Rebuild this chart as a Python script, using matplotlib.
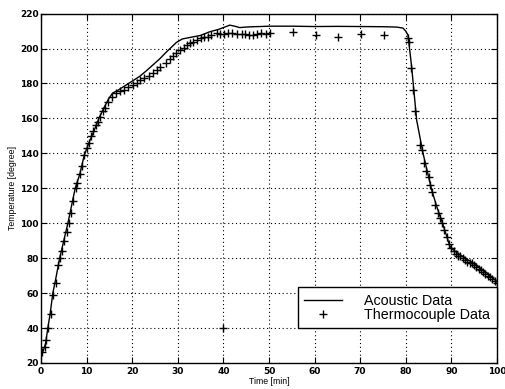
import matplotlib
matplotlib.use("Agg")
import matplotlib.pyplot as plt

# Acoustic data (continuous line)
acoustic_t = [0, 0.5, 1.0, 1.5, 2.0, 2.6, 3.3, 4.1, 5.0, 5.9, 6.7, 7.5, 8.5, 9.5, 10.5, 11.5,
              12.7, 13.8, 14.8, 15.7, 16.8, 18.0, 19.8, 21.6, 23.0, 24.5, 26.0, 27.5, 29.7,
              31.0, 33.0, 35.0, 37.0, 39.0, 40.5, 41.4, 42.5, 43.6, 45.0, 46.5, 48.0, 50.0,
              55.0, 60.0, 65.0, 70.0, 75.0, 78.0, 79.4, 80.0, 80.5, 81.3, 82.4, 83.8, 85.7,
              86.8, 88.2, 89.7, 90.8, 91.9, 93.3, 94.7, 96.2, 97.7, 99.0, 100.0]
acoustic_y = [25, 27, 31, 40, 48, 60, 69, 80, 90, 100, 110, 120, 128, 139, 146, 152,
              160, 166, 171, 174.5, 176, 178, 181, 184, 187, 190.5, 194, 198, 203.5,
              205.5, 206.5, 207.5, 209.6, 211, 212.5, 213.4, 212.8, 212, 212.3, 212.5, 212.6, 212.8,
              212.8, 212.6, 212.7, 212.6, 212.5, 212.3, 211.7, 210, 207.7, 189.6, 159, 140, 119,
              109.6, 99, 86.7, 84, 82, 79.5, 77.4, 74.5, 71.7, 69, 66.5]

# Thermocouple data (+ markers)
thermo_t = [0.3, 0.8, 1.2, 1.6, 2.1, 2.6, 3.2, 3.7, 4.1, 4.6, 5.1, 5.6, 6.1, 6.6, 7.1, 7.6,
            8.0, 8.5, 9.0, 9.5, 10.0, 10.5, 11.0, 11.5, 12.0, 12.5, 13.0, 13.5, 14.0, 14.7,
            15.5, 16.5, 17.3, 18.1, 19.0, 20.2, 21.0, 21.8, 22.6, 23.8, 24.6, 25.4, 26.2,
            27.5, 28.3, 29.0, 29.7, 30.5, 31.3, 32.0, 32.6, 33.4, 34.2, 35.0, 35.8, 36.6,
            37.4, 38.5, 39.3, 40.2, 41.0, 42.0, 43.0, 44.0, 44.8, 45.6, 46.5, 47.3, 48.3,
            49.3, 50.2, 55.3, 60.3, 65.2, 70.3, 75.3,
            80.5, 80.7, 81.1, 81.6, 82.0, 83.1, 83.5, 84.0, 84.5, 85.0, 85.4, 85.7, 86.4,
            87.0, 87.5, 88.0, 88.5, 89.0, 89.5, 90.0, 90.5, 91.0, 91.5, 92.0, 92.5, 93.0,
            93.5, 94.0, 94.5, 95.0, 95.5, 96.0, 96.5, 97.0, 97.5, 98.0, 98.5, 99.0, 99.5, 100.0,
            40.0]
thermo_y = [26, 29, 33, 40, 48, 59, 66, 76, 80, 84, 90, 95, 100, 106, 113, 120,
            123, 128, 133, 139, 143, 146, 150, 153, 156, 158, 161, 164, 166, 169.6,
            172.5, 174.4, 175.5, 176.5, 178, 179.3, 180.5, 182, 183, 184, 186, 188, 189.5,
            191.5, 194, 196, 197.3, 199, 200.5, 202, 203, 204, 205, 206, 206.5, 206.7,
            207.5, 208.7, 208.5, 208.3, 208.7, 208.7, 208.5, 208.2, 208.5, 207.7, 207.7, 208.5, 209,
            208.3, 208.7, 209.6, 207.7, 206.7, 208.3, 207.7,
            205.8, 204, 188.7, 176.3, 164, 144.9, 142, 134.4, 130, 126.7, 122, 118, 110.6,
            106, 103, 100, 96, 92, 88, 86, 84, 82.5, 81.5, 81, 80, 79,
            78, 77.5, 77, 76, 75, 74, 73, 72, 71, 70, 69, 68, 67, 66,
            40]

plt.rcParams['font.family'] = ['Liberation Sans', 'DejaVu Sans']

fig = plt.figure(figsize=(5.06, 3.89), dpi=100)
ax = fig.add_axes([0.081, 0.067, 0.901, 0.898])

ax.plot(acoustic_t, acoustic_y, color='black', lw=1.0, label='Acoustic Data')
ax.plot(thermo_t, thermo_y, linestyle='none', marker='+', color='black',
        markersize=6, markeredgewidth=1.0, label='Thermocouple Data')

ax.set_xlim(0, 100)
ax.set_ylim(20, 220)
ax.set_xticks(range(0, 101, 10))
ax.set_yticks(range(20, 221, 20))
ax.grid(True, color='black', linestyle=(0, (1, 2.5)), linewidth=0.8)
ax.tick_params(direction='in', top=True, right=True, labelsize=6.5, length=4, width=0.8)
ax.tick_params(axis='x', pad=3)
ax.tick_params(axis='y', pad=1.5)
for lbl in ax.get_xticklabels() + ax.get_yticklabels():
    lbl.set_fontfamily('DejaVu Sans')
    lbl.set_fontweight('bold')
for s in ax.spines.values():
    s.set_linewidth(1.0)

ax.set_xlabel('Time [min]', fontsize=6.3, labelpad=0.5)
ax.set_ylabel('Temperature [degree]', fontsize=6.3, labelpad=2)

leg = ax.legend(loc='lower right', bbox_to_anchor=(1.0, 0.1), fontsize=10.3,
                frameon=True, fancybox=False, edgecolor='black', framealpha=1,
                borderpad=0.45, labelspacing=0.0, handlelength=2.6, handletextpad=1.6,
                borderaxespad=0)
leg.get_frame().set_linewidth(1.0)

fig.savefig('out.png', dpi=100)
